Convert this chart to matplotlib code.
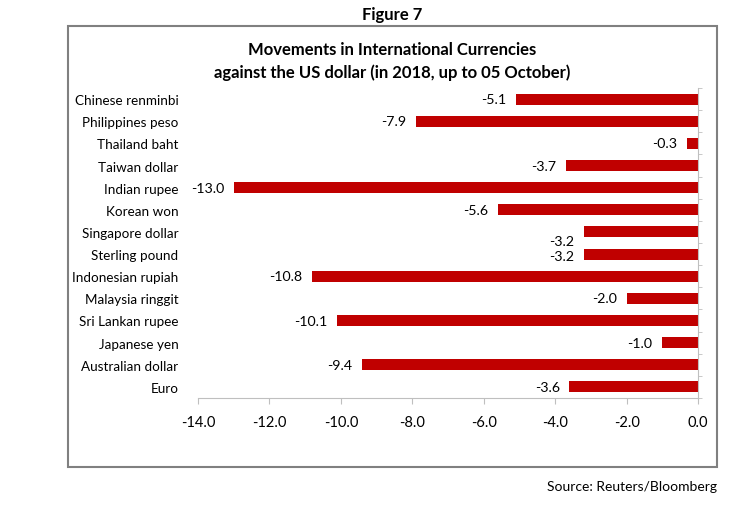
import matplotlib
matplotlib.use("Agg")
import matplotlib.pyplot as plt
from matplotlib.patches import Rectangle
import numpy as np

categories = ["Chinese renminbi", "Philippines peso", "Thailand baht", "Taiwan dollar",
              "Indian rupee", "Korean won", "Singapore dollar", "Sterling pound",
              "Indonesian rupiah", "Malaysia ringgit", "Sri Lankan rupee", "Japanese yen",
              "Australian dollar", "Euro"]
values = [-5.1, -7.9, -0.3, -3.7, -13.0, -5.6, -3.2, -3.2, -10.8, -2.0, -10.1, -1.0, -9.4, -3.6]
xticks = [-14.0, -12.0, -10.0, -8.0, -6.0, -4.0, -2.0, 0.0]

plt.rcParams['font.family'] = ['Lato', 'DejaVu Sans']
W, H = 750, 510
fig = plt.figure(figsize=(7.5, 5.1), dpi=100)

def fx(px): return px / W
def fy(py): return 1 - py / H

# outer box
fig.patches.append(Rectangle((fx(68), fy(468)), fx(717) - fx(68), fy(27) - fy(468),
                             transform=fig.transFigure, fill=False, edgecolor='#808080', lw=1.5))

fig.text(fx(392), fy(15), "Figure 7", ha='center', va='center', fontsize=12, fontweight='bold')
fig.text(fx(392), fy(50), "Movements in International Currencies", ha='center', va='center',
         fontsize=12, fontweight='bold')
fig.text(fx(392), fy(73), "against the US dollar (in 2018, up to 05 October)", ha='center', va='center',
         fontsize=12, fontweight='bold')
fig.text(fx(717), fy(487), "Source: Reuters/Bloomberg", ha='right', va='center', fontsize=10)

ax = fig.add_axes([fx(198), fy(399), fx(698) - fx(198), fy(89) - fy(399)])
y = np.arange(len(categories))
ax.barh(y, values, height=0.5, color='#C00000')
ax.set_ylim(len(categories) - 0.5, -0.5)
ax.set_xlim(-14, 0)
ax.set_xticks(xticks)
ax.set_xticklabels([f"{t:.1f}" for t in xticks], fontsize=10.5)
ax.set_yticks(y)
ax.set_yticklabels(categories, fontsize=9.7)
ax.set_yticks(np.arange(len(categories) + 1) - 0.5, minor=True)
ax.tick_params(axis='y', which='major', length=0, pad=14)
ax.tick_params(axis='y', which='minor', left=False, right=True, length=3, color='#bfbfbf')
ax.tick_params(axis='x', length=4, color='#bfbfbf', pad=8)
for s in ['top', 'left']:
    ax.spines[s].set_visible(False)
ax.spines['bottom'].set_color('#bfbfbf')
ax.spines['right'].set_color('#bfbfbf')

for i, v in enumerate(values):
    dy = 0
    if categories[i] == "Singapore dollar":
        dy = -6.5
    elif categories[i] == "Sterling pound":
        dy = -1.5
    ax.annotate(f"{v:.1f}", (v, i), xytext=(-7, dy), textcoords='offset points',
                ha='right', va='center', fontsize=10.2)

fig.savefig("out.png", dpi=100)
